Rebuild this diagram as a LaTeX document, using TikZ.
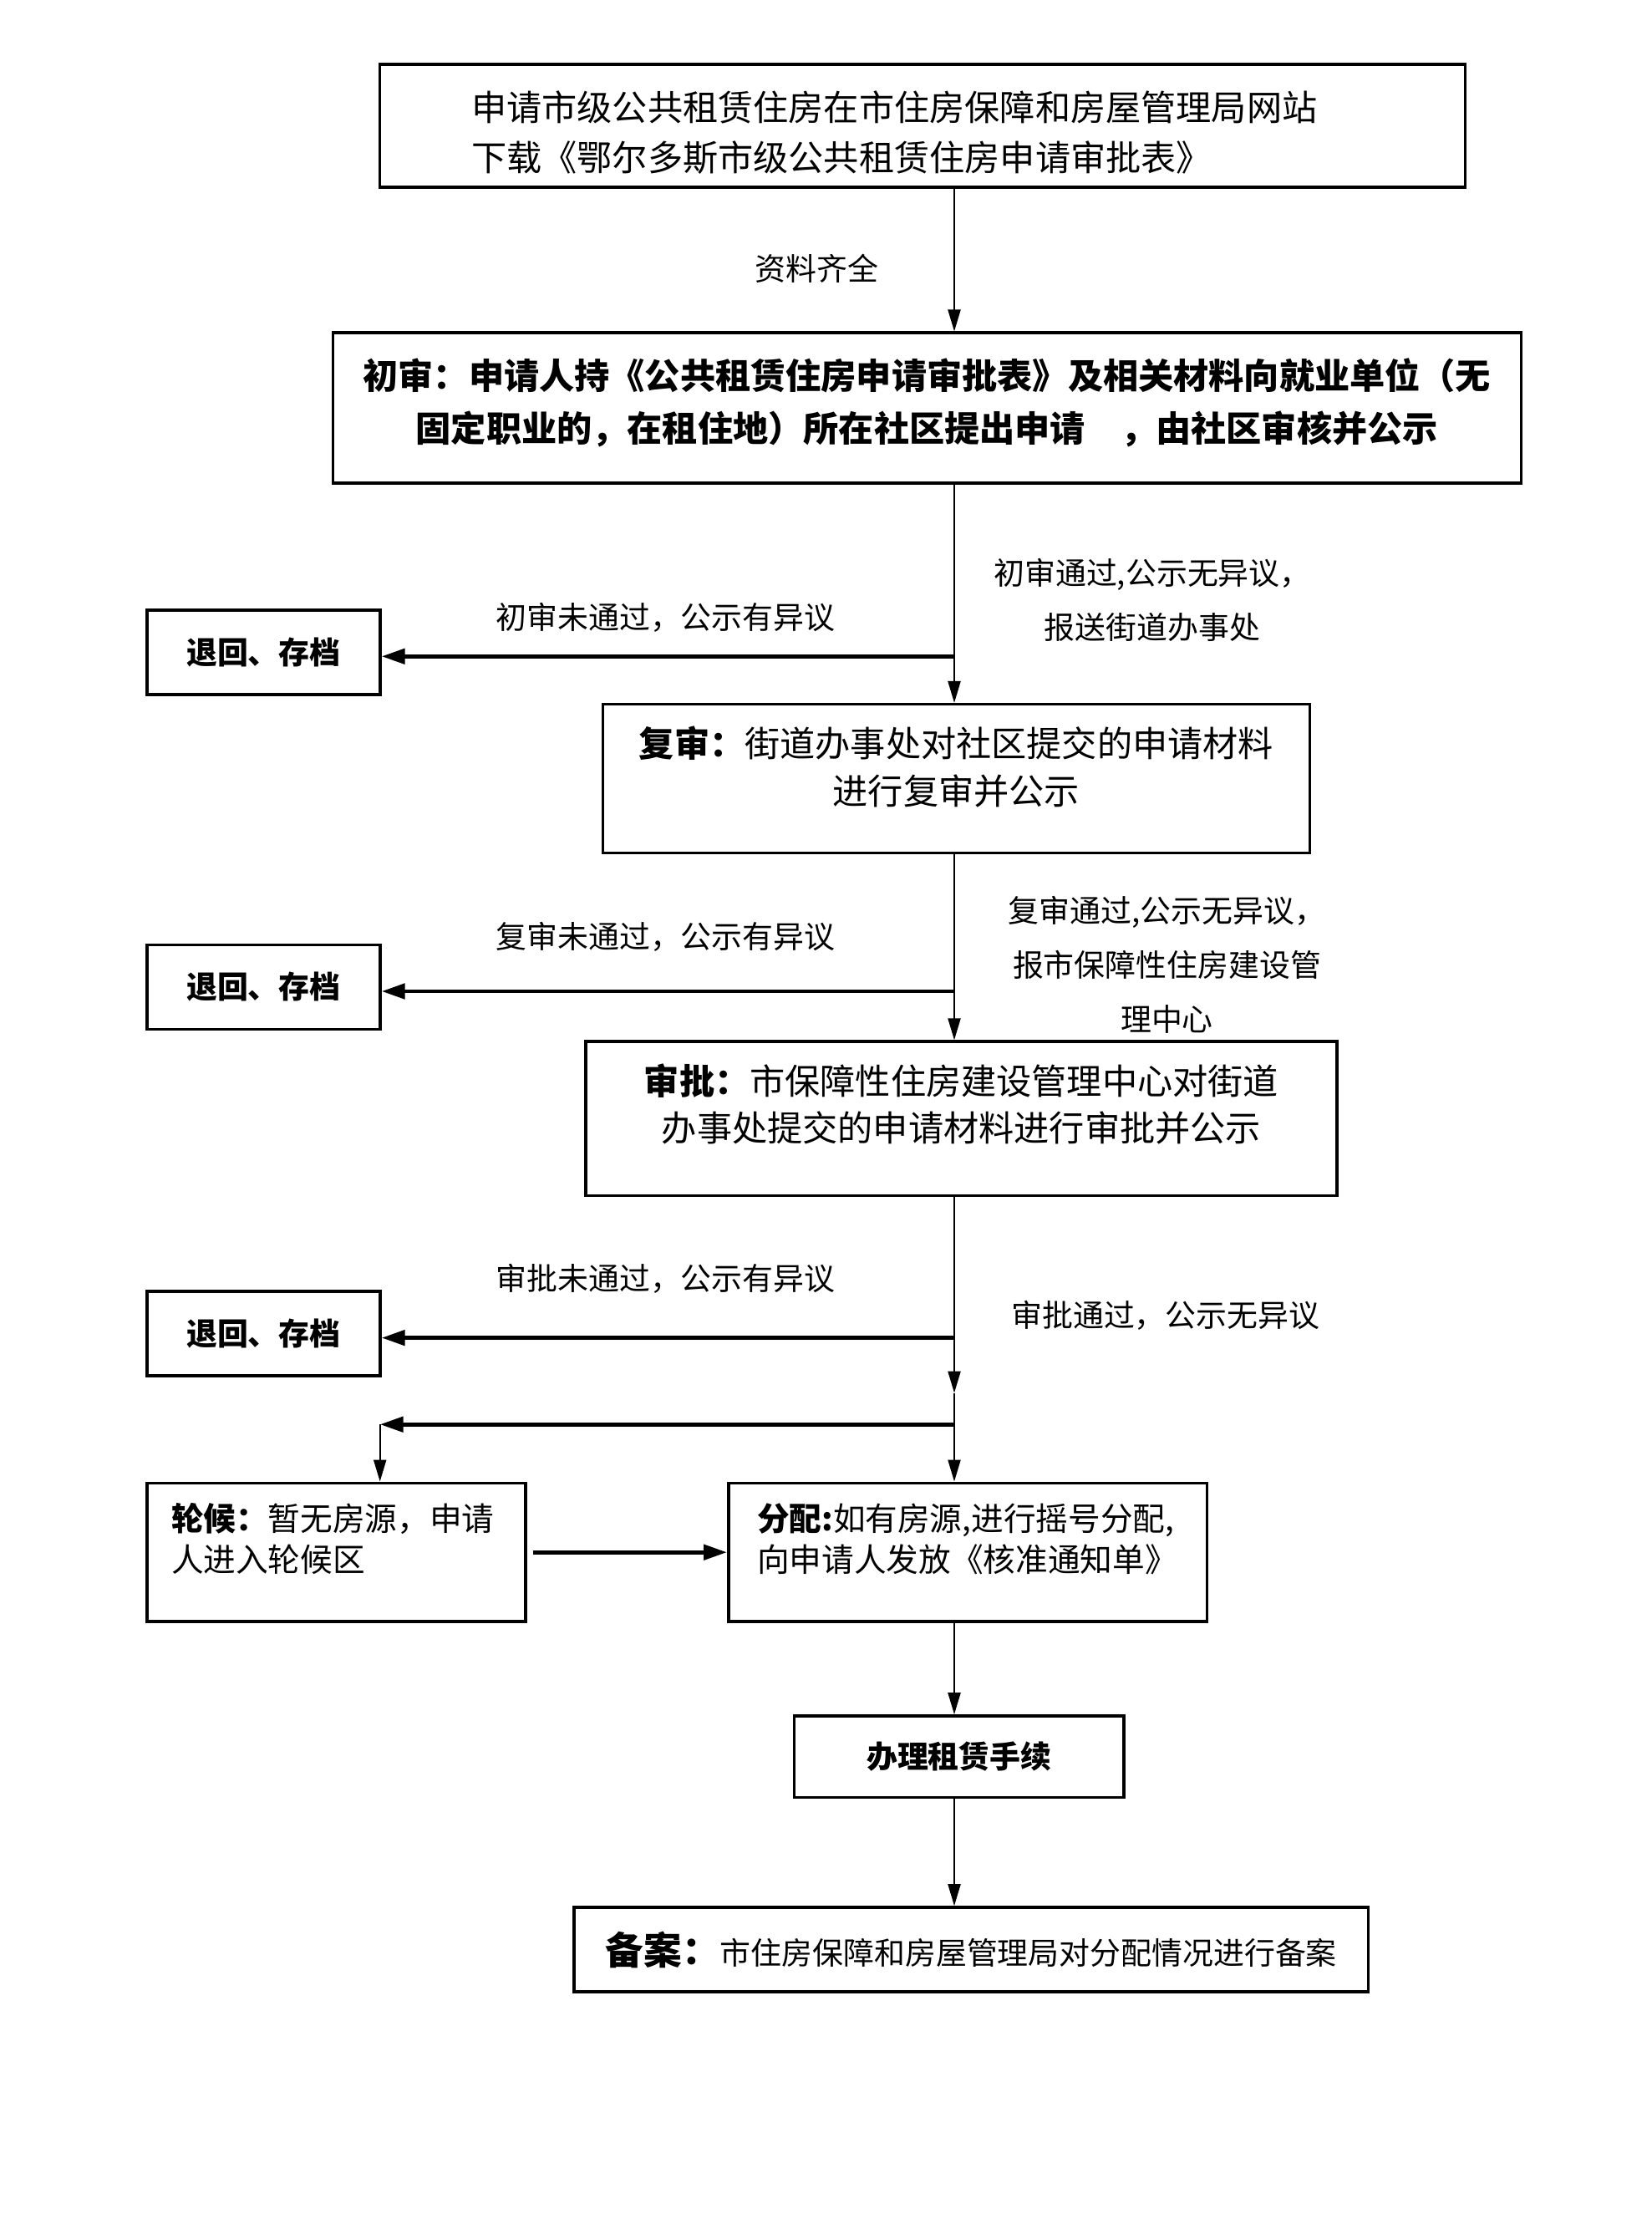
\documentclass[tikz,border=0pt]{standalone}
\usepackage{fontspec}
\setmainfont{Noto Sans CJK SC}
\usepackage{xcolor}
\usepackage{tikz}
\usetikzlibrary{arrows.meta, positioning, calc}
\definecolor{mydark}{RGB}{0,0,0}
\tikzset{
  procbox/.style={rectangle, draw=mydark, line width=1pt, inner sep=0pt},
  retbox/.style={rectangle, draw=mydark, line width=1pt, inner sep=0pt,
    minimum width=2.79cm, minimum height=1.01cm,
    font=\fontsize{10.5}{13}\selectfont\bfseries},
  note/.style={font=\fontsize{10.5}{18.5}\selectfont, align=center, inner sep=0pt},
  arrow/.style={-{Triangle[length=2.6mm, width=1.5mm]}, line width=0.6pt, color=mydark},
  boldarrow/.style={-{Triangle[length=2.8mm, width=1.8mm]}, line width=1.4pt, color=mydark},
  line/.style={line width=0.6pt, color=mydark}
}

\begin{document}
\begin{tikzpicture}
  \useasboundingbox (0,0) rectangle (19.76,-26.8);
  \coordinate (axis) at (11.42,0);
  % Main chain of steps
  \node[procbox, minimum width=12.99cm, minimum height=1.47cm, text width=10.8cm,
    align=left, font=\fontsize{12}{17}\selectfont, text depth=0.48cm] (apply) at (11.042,-1.504)
    {申请市级公共租赁住房在市住房保障和房屋管理局网站\\下载《鄂尔多斯市级公共租赁住房申请审批表》};
  \node[procbox, minimum width=14.22cm, minimum height=1.795cm, text width=14cm,
    align=center, font=\fontsize{12}{18}\selectfont\bfseries, text depth=0.82cm] (first) at (11.093,-4.880)
    {初审：申请人持《公共租赁住房申请审批表》及相关材料向就业单位（无\\固定职业的，在租住地）所在社区提出申请　，由社区审核并公示};
  \node[procbox, minimum width=8.461cm, minimum height=1.778cm, text width=8.2cm,
    align=center, font=\fontsize{12}{16}\selectfont, text depth=0.88cm] (second) at (11.444,-9.316)
    {\textbf{复审：}街道办事处对社区提交的申请材料\\进行复审并公示};
  \node[procbox, minimum width=8.991cm, minimum height=1.846cm, text width=8.7cm,
    align=center, font=\fontsize{12}{16}\selectfont, text depth=0.95cm] (third) at (11.504,-13.384)
    {\textbf{审批：}市保障性住房建设管理中心对街道\\办事处提交的申请材料进行审批并公示};
  \node[procbox, minimum width=4.529cm, minimum height=1.658cm, text width=3.95cm,
    align=left, font=\fontsize{11}{14}\selectfont, text depth=0.85cm] (wait) at (4.025,-18.572)
    {\textbf{轮候：}暂无房源，申请\\人进入轮候区};
  \node[procbox, minimum width=5.727cm, minimum height=1.658cm, text width=5.04cm,
    align=left, font=\fontsize{11}{14}\selectfont, text depth=0.85cm] (alloc) at (11.581,-18.572)
    {\textbf{分配:}如有房源,进行摇号分配,\\向申请人发放《核准通知单》};
  \node[procbox, minimum width=3.948cm, minimum height=0.974cm,
    font=\fontsize{10.5}{13}\selectfont\bfseries] (lease) at (11.478,-21.016)
    {办理租赁手续};
  \node[procbox, minimum width=9.504cm, minimum height=1.009cm,
    font=\fontsize{10.5}{13}\selectfont] (record) at (11.623,-23.324)
    {{\fontsize{13}{13}\selectfont\bfseries 备案：}市住房保障和房屋管理局对分配情况进行备案};
  % Returned applications
  \node[retbox] (ret1) at (3.154,-7.803) {退回、存档};
  \node[retbox] (ret2) at (3.154,-11.810) {退回、存档};
  \node[retbox] (ret3) at (3.154,-15.956) {退回、存档};
  % Labels
  \node[note] (ready) at (9.777,-3.213) {资料齐全};
  \node[note] (fail1) at (7.965,-7.384) {初审未通过，公示有异议};
  \node[note] (pass1) at (13.79,-7.18) {初审通过,公示无异议，\\报送街道办事处};
  \node[note] (fail2) at (7.965,-11.213) {复审未通过，公示有异议};
  \node[note] (pass2) at (13.965,-11.54) {复审通过,公示无异议，\\报市保障性住房建设管\\理中心};
  \node[note] (fail3) at (7.965,-15.298) {审批未通过，公示有异议};
  \node[note] (pass3) at (13.948,-15.743) {审批通过，公示无异议};
  % Connectors
  \coordinate (mid) at (11.42,-16.666);
  \coordinate (split) at (11.42,-17.042);
  \coordinate (turn) at (4.547,-17.042);
  \draw[arrow] (apply.south -| axis) -- (first.north -| axis);
  \draw[arrow] (first.south -| axis) -- (second.north -| axis);
  \draw[boldarrow] ([yshift=-0.05cm]ret1.east -| axis) -- ([yshift=-0.05cm]ret1.east);
  \draw[arrow] (second.south -| axis) -- (third.north -| axis);
  \draw[boldarrow] ([yshift=-0.05cm]ret2.east -| axis) -- ([yshift=-0.05cm]ret2.east);
  \draw[arrow] (third.south -| axis) -- (mid);
  \draw[boldarrow] ([yshift=-0.05cm]ret3.east -| axis) -- ([yshift=-0.05cm]ret3.east);
  \draw[arrow] (mid) -- (alloc.north -| axis);
  \draw[boldarrow] (split) -- (turn);
  \draw[arrow] (turn) -- (turn |- wait.north);
  \draw[boldarrow] ([xshift=0.07cm]wait.east) -- (alloc.west);
  \draw[arrow] (alloc.south -| axis) -- (lease.north -| axis);
  \draw[arrow] (lease.south -| axis) -- (record.north -| axis);
\end{tikzpicture}
\end{document}
